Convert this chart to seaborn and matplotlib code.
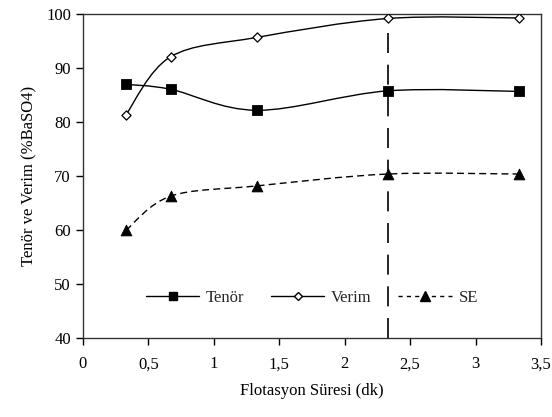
import matplotlib
matplotlib.use("Agg")
import matplotlib.pyplot as plt
import seaborn as sns
import numpy as np
import pandas as pd
from matplotlib.path import Path
from matplotlib.patches import PathPatch
from matplotlib.lines import Line2D

time = [0.33, 0.67, 1.33, 2.33, 3.33]
tenor = [87.0, 86.1, 82.2, 85.8, 85.7]
verim = [81.4, 92.1, 95.7, 99.2, 99.3]
se = [60.0, 66.3, 68.2, 70.4, 70.4]
vline_x = 2.33

sns.set_theme(style="white")
plt.rcParams['font.family'] = ['Liberation Serif', 'DejaVu Serif']

fig = plt.figure(figsize=(5.52, 4.17), dpi=100)
ax = fig.add_axes([0.150, 0.189, 0.830, 0.777])

def smooth(ax, xs, ys, **kw):
    xs = np.asarray(xs, float); ys = np.asarray(ys, float)
    n = len(xs)
    verts = [(xs[0], ys[0])]
    codes = [Path.MOVETO]
    for i in range(n - 1):
        p0 = np.array([xs[max(i - 1, 0)], ys[max(i - 1, 0)]])
        p1 = np.array([xs[i], ys[i]])
        p2 = np.array([xs[i + 1], ys[i + 1]])
        p3 = np.array([xs[min(i + 2, n - 1)], ys[min(i + 2, n - 1)]])
        c1 = p1 + (p2 - p0) / 6.0
        c2 = p2 - (p3 - p1) / 6.0
        verts += [tuple(c1), tuple(c2), tuple(p2)]
        codes += [Path.CURVE4] * 3
    ax.add_patch(PathPatch(Path(verts, codes), fill=False, **kw))

smooth(ax, time, tenor, color='black', lw=1.0, zorder=2)
smooth(ax, time, verim, color='black', lw=1.0, zorder=2)
smooth(ax, time, se, color='black', lw=1.0, linestyle=(0, (5, 3)), zorder=2)

df = pd.DataFrame({'t': time, 'Tenör': tenor, 'Verim': verim, 'SE': se})
sns.scatterplot(data=df, x='t', y='Tenör', marker='s', s=55, color='black',
                edgecolor='black', ax=ax, zorder=3)
sns.scatterplot(data=df, x='t', y='Verim', marker='D', s=22, color='white',
                edgecolor='black', linewidth=0.9, ax=ax, zorder=3)
sns.scatterplot(data=df, x='t', y='SE', marker='^', s=60, color='black',
                edgecolor='black', ax=ax, zorder=3)

ax.axvline(vline_x, color='black', lw=1.2, linestyle=(0, (12, 7)), zorder=1)

ax.set_xlim(0, 3.5)
ax.set_ylim(40, 100)
ax.set_xticks(np.arange(0, 3.51, 0.5))
ax.set_xticklabels(['0', '0,5', '1', '1,5', '2', '2,5', '3', '3,5'])
ax.set_yticks(np.arange(40, 101, 10))
ax.tick_params(axis='both', direction='out', length=5, width=1, color='black',
               labelsize=12, labelcolor='black', bottom=True, left=True)
ax.tick_params(axis='x', pad=8)
for sp in ax.spines.values():
    sp.set_color('#333333')
    sp.set_linewidth(1.0)
ax.set_xlabel('Flotasyon Süresi (dk)', fontsize=12, color='black', labelpad=8)
ax.set_ylabel('Tenör ve Verim (%BaSO4)', fontsize=12, color='black', labelpad=6)

handles = [
    Line2D([], [], color='black', lw=1.0, marker='s', markersize=6),
    Line2D([], [], color='black', lw=1.0, marker='D', markersize=4.5,
           markerfacecolor='white'),
    Line2D([], [], color='black', lw=1.0, linestyle=(0, (3, 3)), marker='^',
           markersize=7),
]
ax.legend(handles, ['Tenör', 'Verim', 'SE'], ncol=3, frameon=False,
          loc='center', bbox_to_anchor=(0.5, 0.125), fontsize=12,
          handlelength=3.2, columnspacing=1.6, handletextpad=0.4)

fig.savefig('out.png', dpi=100, facecolor='white')
